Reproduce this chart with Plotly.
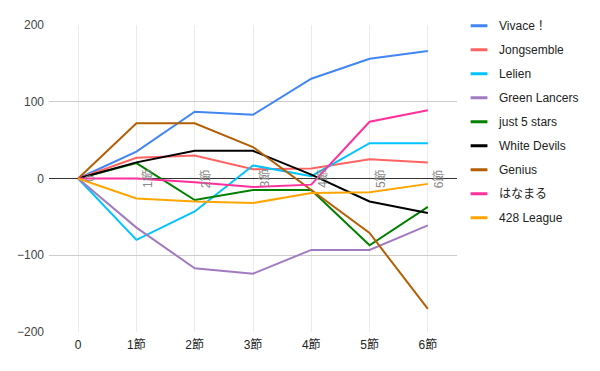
import plotly.graph_objects as go

categories = ["0", "1節", "2節", "3節", "4節", "5節", "6節"]

series_names = ["Vivace！", "Jongsemble", "Lelien", "Green Lancers", "just 5 stars",
                "White Devils", "Genius", "はなまる", "428 League"]

vivace = [0, 35, 87, 83, 130, 156, 166]
jongsemble = [0, 27, 30, 12, 13, 25, 21]
lelien = [0, -80, -43, 17, 3, 46, 46]
green_lancers = [0, -64, -117, -124, -93, -93, -61]
just5stars = [0, 20, -28, -15, -15, -87, -37]
white_devils = [0, 21, 36, 36, 5, -30, -45]
genius = [0, 72, 72, 41, -15, -71, -170]
hanamaru = [0, 0, -5, -11, -8, 74, 89]
league428 = [0, -26, -30, -32, -19, -18, -7]

series_values = [vivace, jongsemble, lelien, green_lancers, just5stars,
                 white_devils, genius, hanamaru, league428]

colors = ["#4285f4", "#ff6363", "#00c3ff", "#a17bc1", "#008000",
          "#000000", "#b45f06", "#ff2f9b", "#ffa500"]

y_ticks = [-200, -100, 0, 100, 200]

FONT = "Liberation Sans, Arial, Noto Sans CJK JP, sans-serif"

fig = go.Figure()

for name, vals, col in zip(series_names, series_values, colors):
    fig.add_trace(go.Scatter(
        x=categories, y=vals, mode="lines", name=name,
        line=dict(color=col, width=2), showlegend=False,
        legendgroup=name, hoverinfo="skip"))

for name, col in zip(series_names, colors):
    fig.add_trace(go.Scatter(
        x=[None], y=[None], mode="markers", name=name, legendgroup=name,
        marker=dict(symbol="line-ew", size=12, color=col,
                    line=dict(color=col, width=3)),
        showlegend=True))

# rotated category labels along the zero baseline
for c in categories:
    fig.add_annotation(x=c, y=0, xref="x", yref="y", text=c,
                       textangle=-90, showarrow=False,
                       xanchor="left", yanchor="middle", xshift=2,
                       font=dict(family=FONT, size=12, color="#8a8a8a"))

# page body has an 8px margin, so the figure is 592x363 and offsets are reduced by 8
fig.update_layout(
    width=592, height=363,
    margin=dict(l=41, r=143, t=17, b=39, autoexpand=False),
    paper_bgcolor="white", plot_bgcolor="white",
    font=dict(family=FONT, size=12, color="#222222"),
    legend=dict(x=1.005, xanchor="left", y=1.045, yanchor="top",
                font=dict(family=FONT, size=12, color="#222222"),
                tracegroupgap=5, itemwidth=30, bgcolor="rgba(0,0,0,0)",
                maxheight=300),
    xaxis=dict(type="category", categoryorder="array", categoryarray=categories,
               range=[-0.5, 6.5], showgrid=True, gridcolor="#ebebeb",
               gridwidth=1, zeroline=False, showline=False, ticks="",
               ticklabelstandoff=4,
               tickfont=dict(family=FONT, size=12, color="#222222")),
    yaxis=dict(range=[-200, 200], tickvals=y_ticks, showgrid=True,
               gridcolor="#cccccc", gridwidth=1, zeroline=True,
               zerolinecolor="#333333", zerolinewidth=1, showline=False,
               ticks="", ticklabelstandoff=4,
               tickfont=dict(family=FONT, size=12, color="#444444")),
)

fig.write_html("out.html")
